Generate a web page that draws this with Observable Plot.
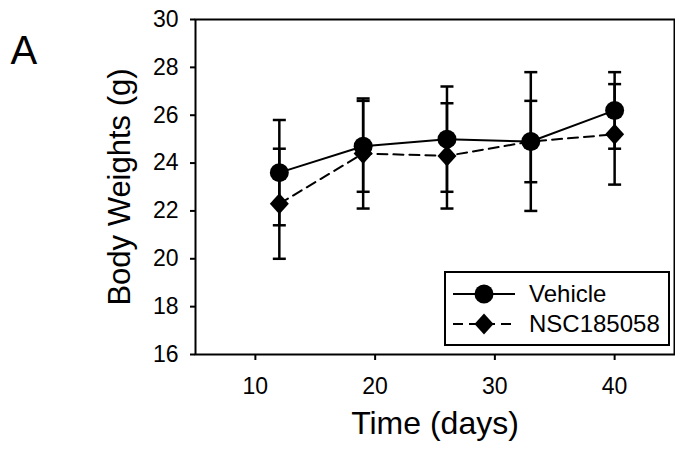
<!DOCTYPE html>
<html>
<head>
<meta charset="utf-8">
<script src="https://cdn.jsdelivr.net/npm/d3@7"></script>
<script src="https://cdn.jsdelivr.net/npm/@observablehq/plot@0.6"></script>
<style>
  html, body { margin: 0; padding: 0; background: white; }
</style>
</head>
<body>
<div id="chart"></div>
<script>
// ---- data ----
const days = [12, 19, 26, 33, 40];
const vehicleMean = [23.6, 24.7, 25.0, 24.9, 26.2];
const vehicleErr  = [2.2, 1.9, 2.2, 2.9, 1.6];
const nscMean = [22.3, 24.4, 24.3, 24.9, 25.2];
const nscErr  = [2.3, 2.3, 2.2, 1.7, 2.1];
const seriesNames = ["Vehicle", "NSC185058"];
const xTicks = [10, 20, 30, 40];
const yTicks = [16, 18, 20, 22, 24, 26, 28, 30];
const xLabel = "Time (days)";
const yLabel = "Body Weights (g)";
const panelLabel = "A";

const vehicle = days.map((d, i) => ({day: d, mean: vehicleMean[i], err: vehicleErr[i], series: seriesNames[0]}));
const nsc = days.map((d, i) => ({day: d, mean: nscMean[i], err: nscErr[i], series: seriesNames[1]}));
const all = nsc.concat(vehicle);

const capSymbol = {draw(ctx) { ctx.moveTo(-6.5, 0); ctx.lineTo(6.5, 0); }};
const diamondSymbol = {draw(ctx) { ctx.moveTo(0, -10.5); ctx.lineTo(9.5, 0); ctx.lineTo(0, 10.5); ctx.lineTo(-9.5, 0); ctx.closePath(); }};

const chart = Plot.plot({
  width: 675,
  height: 453,
  marginLeft: 195,
  marginTop: 19,
  marginRight: 1,
  marginBottom: 99,
  style: {fontFamily: '"Liberation Sans", Arial, sans-serif', fontSize: "23px", color: "black", background: "white"},
  x: {domain: [5, 45]},
  y: {domain: [16, 30]},
  marks: [
    Plot.ruleX(all, {x: "day", y1: d => d.mean - d.err, y2: d => d.mean + d.err, stroke: "black", strokeWidth: 2.5}),
    Plot.dot(all, {x: "day", y: d => d.mean + d.err, symbol: capSymbol, stroke: "black", strokeWidth: 2.5, fill: "none"}),
    Plot.dot(all, {x: "day", y: d => d.mean - d.err, symbol: capSymbol, stroke: "black", strokeWidth: 2.5, fill: "none"}),
    Plot.line(nsc, {x: "day", y: "mean", stroke: "black", strokeWidth: 2, strokeDasharray: "10,6"}),
    Plot.line(vehicle, {x: "day", y: "mean", stroke: "black", strokeWidth: 2}),
    Plot.dot(nsc, {x: "day", y: "mean", symbol: diamondSymbol, fill: "black", stroke: "none"}),
    Plot.dot(vehicle, {x: "day", y: "mean", symbol: "circle", r: 9.5, fill: "black", stroke: "none"}),
    Plot.frame({stroke: "black", strokeWidth: 2}),
    Plot.axisX({ticks: xTicks, tickSize: 6, tickPadding: 17, strokeWidth: 2, fontSize: 23, label: xLabel, labelAnchor: "center", labelOffset: 79, labelArrow: "none"}),
    Plot.axisY({ticks: yTicks, tickSize: 5, tickPadding: 12, strokeWidth: 2, fontSize: 23, label: yLabel, labelAnchor: "center", labelOffset: 88, labelArrow: "none"}),
    Plot.text([panelLabel], {frameAnchor: "top-left", textAnchor: "start", lineAnchor: "bottom", dx: -185, dy: 44, fontSize: 40})
  ]
});

document.getElementById("chart").appendChild(chart);

const svg = d3.select(chart);
// enforce text sizes
svg.selectAll('[aria-label="x-axis tick label"], [aria-label="y-axis tick label"]').style("font-size", "23px")
  .selectAll("text").style("font-size", "23px");
svg.selectAll('[aria-label="x-axis label"]').style("font-size", "32px")
  .selectAll("text").style("font-size", "32px");
svg.selectAll('[aria-label="y-axis label"]').style("font-size", "31px")
  .selectAll("text").style("font-size", "31px");

// ---- legend (static key inside the frame) ----
const lg = svg.append("g").attr("font-family", '"Liberation Sans", Arial, sans-serif').attr("text-anchor", "start");
lg.append("rect").attr("x", 445).attr("y", 272).attr("width", 224).attr("height", 73)
  .attr("fill", "white").attr("stroke", "black").attr("stroke-width", 2);
const rows = [
  {name: seriesNames[0], y: 294, dash: null, sym: "circle"},
  {name: seriesNames[1], y: 324, dash: "10,6", sym: "diamond"}
];
rows.forEach(r => {
  const l = lg.append("line").attr("x1", 453).attr("x2", 515).attr("y1", r.y).attr("y2", r.y)
    .attr("stroke", "black").attr("stroke-width", 2);
  if (r.dash) l.attr("stroke-dasharray", r.dash);
  if (r.sym === "circle") {
    lg.append("circle").attr("cx", 484).attr("cy", r.y).attr("r", 9.5).attr("fill", "black");
  } else {
    lg.append("path").attr("d", `M484,${r.y - 10.5}L493.5,${r.y}L484,${r.y + 10.5}L474.5,${r.y}Z`).attr("fill", "black");
  }
  lg.append("text").attr("x", 529).attr("y", r.y).attr("dy", "0.35em").attr("font-size", 24).attr("fill", "black").text(r.name);
});
</script>
</body>
</html>
